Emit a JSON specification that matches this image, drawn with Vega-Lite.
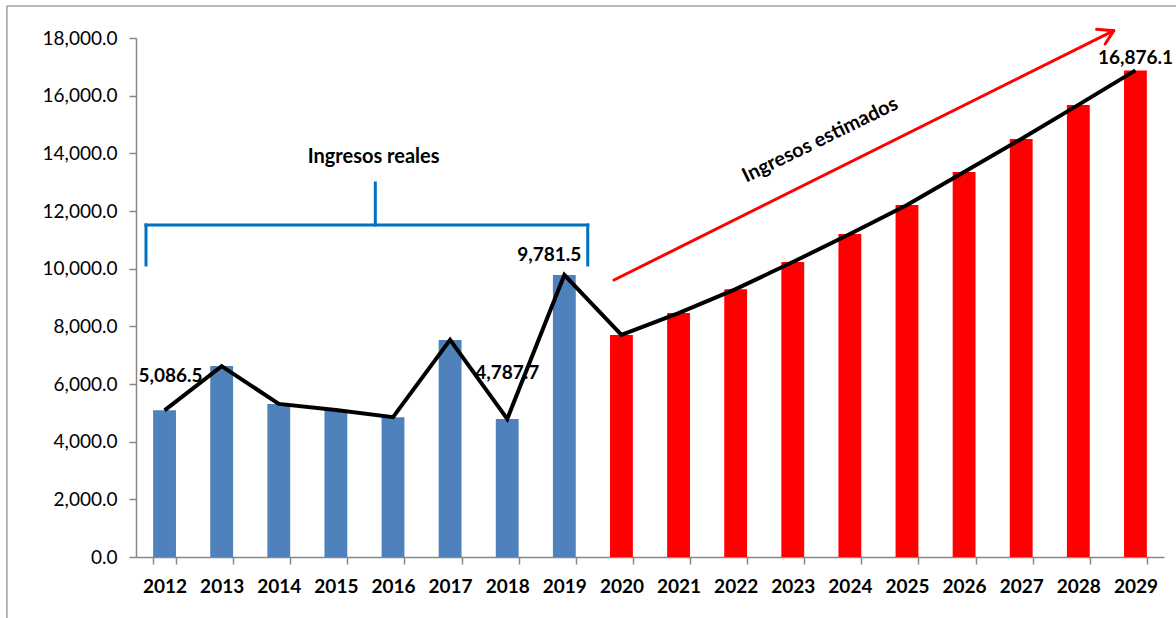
{
  "$schema": "https://vega.github.io/schema/vega-lite/v6.json",
  "width": 1028,
  "height": 519,
  "autosize": {"type": "none"},
  "padding": {"left": 136, "top": 38, "right": 12, "bottom": 61},
  "background": "white",
  "config": {"view": {"stroke": null}, "font": "Lato"},
  "datasets": {
    "ingresos": [
      {"year": "2012", "value": 5086.5, "tipo": "real"},
      {"year": "2013", "value": 6620, "tipo": "real"},
      {"year": "2014", "value": 5310, "tipo": "real"},
      {"year": "2015", "value": 5100, "tipo": "real"},
      {"year": "2016", "value": 4850, "tipo": "real"},
      {"year": "2017", "value": 7530, "tipo": "real"},
      {"year": "2018", "value": 4787.7, "tipo": "real"},
      {"year": "2019", "value": 9781.5, "tipo": "real"},
      {"year": "2020", "value": 7700, "tipo": "estimado"},
      {"year": "2021", "value": 8460, "tipo": "estimado"},
      {"year": "2022", "value": 9290, "tipo": "estimado"},
      {"year": "2023", "value": 10230, "tipo": "estimado"},
      {"year": "2024", "value": 11200, "tipo": "estimado"},
      {"year": "2025", "value": 12210, "tipo": "estimado"},
      {"year": "2026", "value": 13350, "tipo": "estimado"},
      {"year": "2027", "value": 14500, "tipo": "estimado"},
      {"year": "2028", "value": 15680, "tipo": "estimado"},
      {"year": "2029", "value": 16876.1, "tipo": "estimado"}
    ],
    "segments": [
      {"part": "bracket", "x": 0.175, "y": 10128, "x2": 0.175, "y2": 11515},
      {"part": "bracket", "x": 0.175, "y": 11515, "x2": 7.91, "y2": 11515},
      {"part": "bracket", "x": 7.91, "y": 11515, "x2": 7.91, "y2": 10128},
      {"part": "bracket", "x": 4.19, "y": 11515, "x2": 4.19, "y2": 12972},
      {"part": "arrow", "x": 8.37, "y": 9607, "x2": 17.12, "y2": 18254},
      {"part": "arrow", "x": 16.82, "y": 18302, "x2": 17.12, "y2": 18254},
      {"part": "arrow", "x": 16.97, "y": 17792, "x2": 17.12, "y2": 18254},
      {"part": "frame", "x": -2.26, "y": -2400, "x2": -2.26, "y2": 19110},
      {"part": "frame", "x": -2.26, "y": 19110, "x2": 18.4, "y2": 19110}
    ],
    "notes": [
      {"note": "Ingresos reales", "x": 4.16, "y": 13874},
      {"note": "Ingresos estimados", "x": 11.98, "y": 14463}
    ]
  },
  "layer": [
    {
      "data": {"name": "ingresos"},
      "encoding": {
        "x": {
          "field": "year",
          "type": "nominal",
          "sort": null,
          "scale": {"paddingInner": 0.6, "paddingOuter": 0.3},
          "axis": {
            "title": null,
            "labelAngle": 0,
            "labelFontSize": 19,
            "labelFontWeight": "bold",
            "labelColor": "black",
            "labelPadding": 13,
            "ticks": true,
            "tickBand": "extent",
            "tickSize": 7,
            "tickColor": "#888888",
            "domainColor": "#888888",
            "domainWidth": 1.5,
            "tickWidth": 1.5
          }
        },
        "y": {
          "field": "value",
          "type": "quantitative",
          "scale": {"domain": [0, 18000], "nice": false, "zero": true},
          "axis": {
            "title": null,
            "values": [0, 2000, 4000, 6000, 8000, 10000, 12000, 14000, 16000, 18000],
            "format": ",.1f",
            "labelFontSize": 19,
            "labelColor": "black",
            "labelPadding": 12,
            "ticks": true,
            "tickSize": 7,
            "tickColor": "#888888",
            "domainColor": "#888888",
            "domainWidth": 1.5,
            "tickWidth": 1.5,
            "grid": false
          }
        }
      },
      "layer": [
        {
          "mark": {"type": "bar"},
          "encoding": {
            "color": {
              "field": "tipo",
              "type": "nominal",
              "scale": {"domain": ["real", "estimado"], "range": ["#4F81BD", "#FF0000"]},
              "legend": null
            }
          }
        },
        {
          "mark": {"type": "line", "color": "black", "strokeWidth": 4, "strokeJoin": "miter"}
        },
        {
          "transform": [{"filter": "datum.year == '2012'"}],
          "mark": {"type": "text", "fontSize": 19, "fontWeight": "bold", "color": "black", "dx": 6, "dy": -34},
          "encoding": {"text": {"field": "value", "type": "quantitative", "format": ",.1f"}}
        },
        {
          "transform": [{"filter": "datum.year == '2018'"}],
          "mark": {"type": "text", "fontSize": 19, "fontWeight": "bold", "color": "black", "dx": 0, "dy": -46},
          "encoding": {"text": {"field": "value", "type": "quantitative", "format": ",.1f"}}
        },
        {
          "transform": [{"filter": "datum.year == '2019'"}],
          "mark": {"type": "text", "fontSize": 19, "fontWeight": "bold", "color": "black", "dx": -15, "dy": -20},
          "encoding": {"text": {"field": "value", "type": "quantitative", "format": ",.1f"}}
        },
        {
          "transform": [{"filter": "datum.year == '2029'"}],
          "mark": {"type": "text", "fontSize": 19, "fontWeight": "bold", "color": "black", "dx": 0, "dy": -12},
          "encoding": {"text": {"field": "value", "type": "quantitative", "format": ",.1f"}}
        }
      ]
    },
    {
      "layer": [
        {
          "data": {"name": "segments"},
          "transform": [{"filter": "datum.part == 'bracket'"}],
          "mark": {"type": "rule", "color": "#0070C0", "strokeWidth": 3, "strokeCap": "square"},
          "encoding": {
            "x": {"field": "x", "type": "quantitative", "scale": {"domain": [0, 18], "nice": false, "zero": false}, "axis": null},
            "x2": {"field": "x2"},
            "y": {"field": "y", "type": "quantitative", "scale": {"domain": [0, 18000], "nice": false}, "axis": null},
            "y2": {"field": "y2"}
          }
        },
        {
          "data": {"name": "segments"},
          "transform": [{"filter": "datum.part == 'arrow'"}],
          "mark": {"type": "rule", "color": "#FF0000", "strokeWidth": 3, "strokeCap": "round"},
          "encoding": {
            "x": {"field": "x", "type": "quantitative", "scale": {"domain": [0, 18], "nice": false, "zero": false}, "axis": null},
            "x2": {"field": "x2"},
            "y": {"field": "y", "type": "quantitative", "scale": {"domain": [0, 18000], "nice": false}, "axis": null},
            "y2": {"field": "y2"}
          }
        },
        {
          "data": {"name": "segments"},
          "transform": [{"filter": "datum.part == 'frame'"}],
          "mark": {"type": "rule", "color": "#A0A0A0", "strokeWidth": 1.5},
          "encoding": {
            "x": {"field": "x", "type": "quantitative", "scale": {"domain": [0, 18], "nice": false, "zero": false}, "axis": null},
            "x2": {"field": "x2"},
            "y": {"field": "y", "type": "quantitative", "scale": {"domain": [0, 18000], "nice": false}, "axis": null},
            "y2": {"field": "y2"}
          }
        },
        {
          "data": {"name": "notes"},
          "transform": [{"filter": "datum.note == 'Ingresos reales'"}],
          "mark": {"type": "text", "fontSize": 20, "fontWeight": "bold", "color": "black"},
          "encoding": {
            "x": {"field": "x", "type": "quantitative", "scale": {"domain": [0, 18], "nice": false, "zero": false}, "axis": null},
            "y": {"field": "y", "type": "quantitative", "scale": {"domain": [0, 18000], "nice": false}, "axis": null},
            "text": {"field": "note"}
          }
        },
        {
          "data": {"name": "notes"},
          "transform": [{"filter": "datum.note == 'Ingresos estimados'"}],
          "mark": {"type": "text", "fontSize": 20, "fontWeight": "bold", "color": "black", "angle": -26},
          "encoding": {
            "x": {"field": "x", "type": "quantitative", "scale": {"domain": [0, 18], "nice": false, "zero": false}, "axis": null},
            "y": {"field": "y", "type": "quantitative", "scale": {"domain": [0, 18000], "nice": false}, "axis": null},
            "text": {"field": "note"}
          }
        }
      ]
    }
  ],
  "resolve": {"scale": {"x": "independent", "y": "independent"}}
}
